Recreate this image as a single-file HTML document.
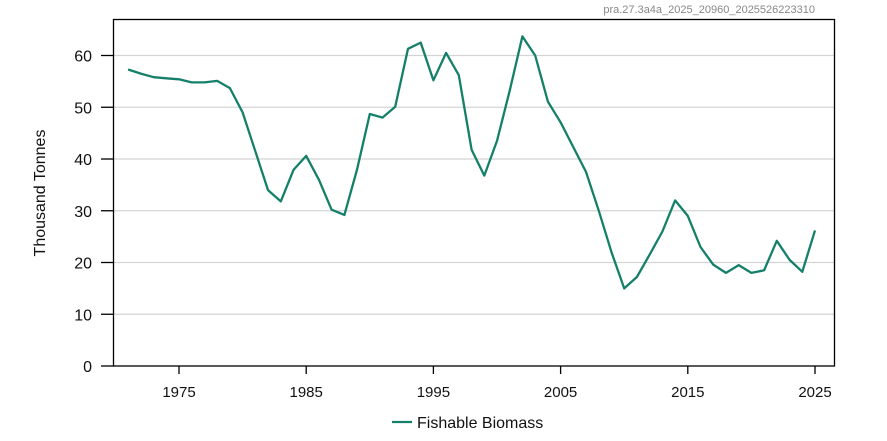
<!DOCTYPE html>
<html><head><meta charset="utf-8"><style>
body{margin:0;background:#fff;}
svg{display:block;font-family:"Liberation Sans",Arial,sans-serif;}
</style></head><body>
<svg id="chart" width="887" height="441">
<text x="815" y="13" font-size="11" fill="#888" text-anchor="end">pra.27.3a4a_2025_20960_2025526223310</text>
<g id="grid"></g>
<rect x="113.5" y="19.5" width="721" height="346.5" fill="none" stroke="#000" stroke-width="1.3"/>
<g id="yaxis"></g><g id="xaxis"></g>
<path id="line" fill="none" stroke="#15806a" stroke-width="2.3" stroke-linejoin="round"/>
<text transform="translate(45,193) rotate(-90)" font-size="16" text-anchor="middle" fill="#111">Thousand Tonnes</text>
<g>
<line x1="392" y1="422" x2="412" y2="422" stroke="#15806a" stroke-width="2.3"/>
<text x="417" y="428" font-size="16" fill="#111">Fishable Biomass</text>
</g>
</svg>
<script>
const years=[1971,1972,1973,1974,1975,1976,1977,1978,1979,1980,1981,1982,1983,1984,1985,1986,1987,1988,1989,1990,1991,1992,1993,1994,1995,1996,1997,1998,1999,2000,2001,2002,2003,2004,2005,2006,2007,2008,2009,2010,2011,2012,2013,2014,2015,2016,2017,2018,2019,2020,2021,2022,2023,2024,2025];
const biomass=[57.3,56.5,55.8,55.6,55.4,54.8,54.8,55.1,53.7,49,41.5,34,31.8,37.9,40.6,36,30.2,29.2,38,48.7,48,50.1,61.3,62.5,55.2,60.5,56.2,41.8,36.8,43.5,53.2,63.7,60,51.1,47.1,42.3,37.5,30,22,15,17.2,21.5,26,32,29,23,19.6,18,19.5,18,18.5,24.2,20.5,18.2,26.2];
const yTicks=[0,10,20,30,40,50,60];
const xTicks=[1975,1985,1995,2005,2015,2025];
const NS='http://www.w3.org/2000/svg';
const X=v=>179+(v-1975)*12.72;
const Y=v=>366-v*5.175;
function mk(t,a,p){const e=document.createElementNS(NS,t);for(const k in a)e.setAttribute(k,a[k]);p.appendChild(e);return e;}
const g=document.getElementById('grid'),ya=document.getElementById('yaxis'),xa=document.getElementById('xaxis');
yTicks.forEach(v=>{
 if(v>0){const l=mk('line',{x1:114,x2:834,y1:Y(v),y2:Y(v),stroke:'#d4d4d4','stroke-width':1.3},g);
 
 }
 const t=mk('line',{x1:101,x2:114,y1:Y(v),y2:Y(v),stroke:'#000','stroke-width':1.3},ya);
 
 
 const s=mk('text',{x:92,y:Y(v)+6,'font-size':16,'text-anchor':'end',fill:'#111'},ya);s.textContent=v;
 
 
});
xTicks.forEach(v=>{
 const t=mk('line',{x1:X(v),x2:X(v),y1:366,y2:374,stroke:'#000','stroke-width':1.3},xa);
 
 
 const s=mk('text',{x:X(v),y:397,'font-size':15,'text-anchor':'middle',fill:'#111'},xa);s.textContent=v;
 
 
});
document.getElementById('line').setAttribute('d',years.map((y,i)=>(i?'L':'M')+X(y).toFixed(1)+','+Y(biomass[i]).toFixed(1)).join(''));
</script>
</body></html>
